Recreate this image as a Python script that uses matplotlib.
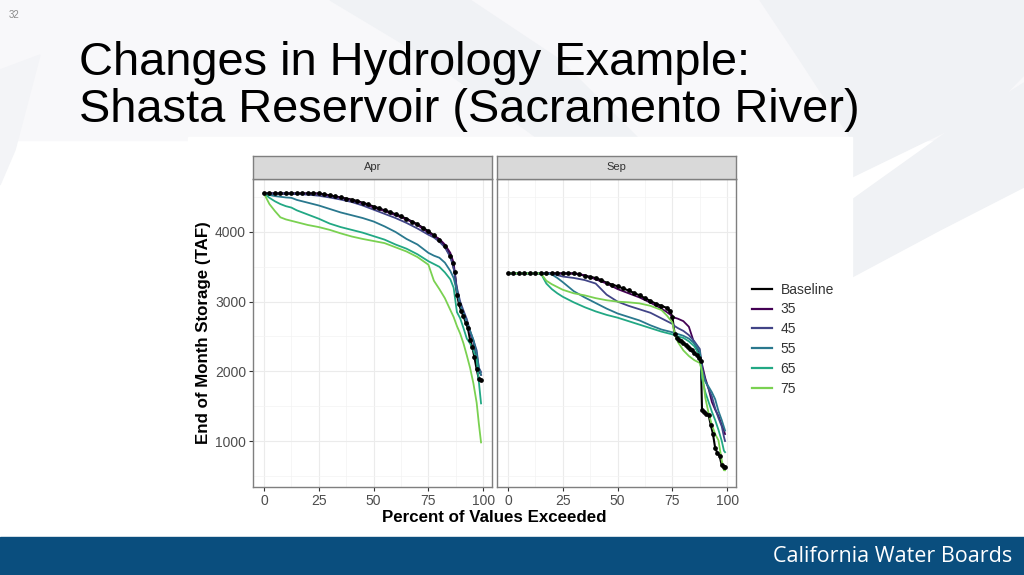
import matplotlib
matplotlib.use("Agg")
import matplotlib.pyplot as plt
from matplotlib.patches import Rectangle, Polygon

plt.rcParams['font.family'] = ['Liberation Sans', 'DejaVu Sans']

# ---- data (percent exceeded vs end of month storage, TAF) ----
series_names = ['Baseline', '35', '45', '55', '65', '75']
series_colors = ['#000000', '#440154', '#414487', '#2A788E', '#22A884', '#7AD151']

# Baseline is drawn with points, so it gets its own finer reading
apr_base_pct = [0, 2.5, 5, 7.5, 10, 12.5, 15, 17.5, 20, 22.5, 25, 27.5, 30, 32.5, 35, 37.5, 40,
                42.5, 45, 47.5, 50, 52.5, 55, 57.5, 60, 62.5, 65, 67.5, 70, 72.5, 75, 77.5, 80,
                82.5, 85, 86, 87, 88, 89, 90, 91, 92, 93, 94, 95, 96, 97, 98, 99]
apr_baseline = [4552, 4552, 4552, 4552, 4552, 4552, 4552, 4552, 4552, 4552, 4552, 4540, 4525,
                4510, 4495, 4480, 4465, 4445, 4420, 4395, 4365, 4340, 4310, 4285, 4255, 4225,
                4190, 4150, 4110, 4060, 4010, 3950, 3890, 3800, 3660, 3560, 3420, 3100, 2960,
                2860, 2790, 2700, 2620, 2450, 2350, 2200, 2030, 1890, 1870]

apr_pct = [0, 2.5, 5, 7.5, 10, 12.5, 15, 20, 25, 30, 35, 40, 45, 50, 55, 60, 65, 70,
           75, 77.5, 80, 82.5, 85, 86.5, 88, 89.5, 91, 92.5, 94, 95.5, 97, 98, 99]
apr_35 = [4552, 4552, 4552, 4552, 4552, 4552, 4552, 4552, 4550, 4515, 4490, 4455, 4410, 4350,
          4300, 4240, 4180, 4100, 3990, 3940, 3900, 3820, 3700, 3560, 3150, 2950, 2850, 2700,
          2550, 2420, 2200, 2000, 1950]
apr_45 = [4552, 4552, 4552, 4552, 4552, 4550, 4545, 4535, 4520, 4495, 4465, 4430, 4380, 4320,
          4260, 4200, 4130, 4050, 3960, 3920, 3860, 3780, 3640, 3480, 3200, 3000, 2870, 2750,
          2580, 2450, 2300, 2050, 1990]
apr_55 = [4552, 4530, 4515, 4505, 4495, 4490, 4460, 4420, 4380, 4330, 4280, 4240, 4200, 4150,
          4080, 4000, 3900, 3820, 3700, 3660, 3630, 3560, 3440, 3340, 3150, 2950, 2830, 2700,
          2580, 2450, 2250, 2050, 1950]
apr_65 = [4552, 4490, 4440, 4400, 4370, 4350, 4310, 4250, 4190, 4120, 4070, 4030, 3990, 3940,
          3890, 3820, 3760, 3680, 3580, 3540, 3500, 3420, 3320, 3200, 2850, 2760, 2620, 2470,
          2400, 2300, 2170, 1850, 1540]
apr_75 = [4552, 4400, 4300, 4210, 4180, 4160, 4140, 4100, 4070, 4030, 3980, 3935, 3900, 3870,
          3840, 3780, 3720, 3640, 3530, 3300, 3180, 3050, 2880, 2780, 2650, 2540, 2400, 2230,
          2050, 1830, 1550, 1250, 980]

sep_base_pct = [0, 2.5, 5, 7.5, 10, 12.5, 15, 17.5, 20, 22.5, 25, 27.5, 30, 32.5, 35, 37.5, 40,
                42.5, 45, 47.5, 50, 52.5, 55, 57.5, 60, 62.5, 65, 67.5, 70, 72.5, 74, 75, 76,
                77, 78, 79, 80, 81, 82, 83, 84, 85, 86, 87, 88, 88.5, 89.5, 90.5, 91.5, 92.5,
                93.5, 94.5, 95.5, 96.5, 97.5, 98.5, 99]
sep_baseline = [3405, 3405, 3405, 3405, 3405, 3405, 3405, 3405, 3405, 3405, 3405, 3405, 3405,
                3395, 3370, 3355, 3340, 3310, 3270, 3245, 3220, 3190, 3160, 3125, 3090, 3050,
                3010, 2970, 2940, 2910, 2860, 2780, 2540, 2480, 2450, 2430, 2410, 2380, 2350,
                2320, 2300, 2270, 2230, 2190, 2150, 1450, 1420, 1390, 1370, 1230, 1100, 900,
                830, 790, 650, 630, 630]

sep_pct = [0, 5, 10, 15, 17.5, 20, 22.5, 25, 30, 35, 40, 45, 50, 55, 60, 65, 70, 72.5, 75,
           76, 77.5, 80, 82.5, 85, 87.5, 88.5, 90, 91.5, 93, 94.5, 96, 97.5, 98.5, 99]
sep_35 = [3405, 3405, 3405, 3405, 3405, 3405, 3405, 3405, 3405, 3380, 3320, 3260, 3180, 3120,
          3060, 2985, 2900, 2850, 2790, 2770, 2755, 2720, 2640, 2400, 2250, 2100, 1900, 1750,
          1560, 1450, 1360, 1230, 1150, 1100]
sep_45 = [3405, 3405, 3405, 3405, 3405, 3405, 3380, 3360, 3340, 3310, 3260, 3100, 3000, 2940,
          2890, 2840, 2760, 2720, 2680, 2650, 2620, 2580, 2520, 2430, 2320, 2050, 1870, 1750,
          1640, 1470, 1330, 1210, 1060, 1000]
sep_55 = [3405, 3405, 3405, 3405, 3405, 3390, 3340, 3280, 3150, 3060, 2980, 2900, 2830, 2780,
          2730, 2660, 2600, 2580, 2560, 2550, 2535, 2510, 2470, 2400, 2290, 2000, 1850, 1780,
          1700, 1600, 1430, 1300, 1200, 1150]
sep_65 = [3405, 3405, 3405, 3405, 3260, 3180, 3120, 3070, 2990, 2920, 2860, 2810, 2770, 2720,
          2670, 2620, 2570, 2550, 2530, 2520, 2500, 2480, 2430, 2360, 2220, 1900, 1700, 1560,
          1420, 1300, 1160, 1000, 860, 840]
sep_75 = [3405, 3405, 3405, 3405, 3300, 3250, 3210, 3170, 3120, 3090, 3050, 3020, 3000, 2990,
          2975, 2940, 2880, 2800, 2700, 2550, 2420, 2300, 2220, 2160, 2120, 2000, 1620, 1400,
          1230, 1100, 1010, 720, 580, 580]

x_ticks = [0, 25, 50, 75, 100]
y_ticks = [1000, 2000, 3000, 4000]

W, H = 1024, 575
fig = plt.figure(figsize=(W / 100, H / 100), dpi=100)
fig.patch.set_facecolor('white')


def fx(px):
    return px / W


def fy(py):
    return 1 - py / H


def bg_shape(pts, color='#F0F2F5'):
    fig.patches.append(Polygon([(fx(x), fy(y)) for x, y in pts], closed=True,
                               transform=fig.transFigure, color=color, zorder=0))


# faint slide background swooshes
bg_shape([(0, 0), (1024, 0), (1024, 140), (0, 140)], color='#F8F8FA')
bg_shape([(330, 0), (470, 0), (560, 60), (640, 140), (540, 140), (430, 60)])
bg_shape([(760, 0), (1024, 0), (1024, 20), (930, 50), (852, 90), (852, 140), (800, 60)])
bg_shape([(852, 90), (930, 50), (1024, 20), (1024, 75), (990, 110), (852, 177)])
bg_shape([(852, 200), (950, 130), (1024, 83), (1024, 187), (940, 230), (852, 277)])
bg_shape([(0, 70), (40, 55), (15, 150), (0, 185)], color='#F3F4F7')
# white plot image area
fig.patches.append(Rectangle((fx(188), fy(535)), fx(852 - 188), (535 - 137) / H,
                             transform=fig.transFigure, color='white', zorder=0.5))

# footer band
fig.patches.append(Rectangle((0, 0), 1, (575 - 537) / H, transform=fig.transFigure,
                             color='#0A4E7E', zorder=1))
fig.text(fx(1012), fy(556), 'California Water Boards', color='white', fontsize=15.5,
         family=['Open Sans', 'DejaVu Sans'], ha='right', va='center')

# page number and title
fig.text(fx(9), fy(15), '32', color='#8C8C8C', fontsize=7, ha='left', va='center')
fig.text(fx(79), fy(41), 'Changes in Hydrology Example:\nShasta Reservoir (Sacramento River)',
         fontsize=33.8, ha='left', va='top', linespacing=1.1, color='black')

panels = [
    ('Apr', apr_base_pct, apr_baseline, apr_pct, [apr_35, apr_45, apr_55, apr_65, apr_75], 253),
    ('Sep', sep_base_pct, sep_baseline, sep_pct, [sep_35, sep_45, sep_55, sep_65, sep_75], 497),
]

ax_top, ax_bot, ax_w = 179, 487, 239
strip_h = 23
axes = []
for month, base_pct, base_vals, pct, values, left in panels:
    ax = fig.add_axes([fx(left), fy(ax_bot), ax_w / W, (ax_bot - ax_top) / H])
    ax.set_zorder(2)
    ax.set_xlim(-5, 104)
    ax.set_ylim(340, 4760)
    ax.set_xticks(x_ticks)
    ax.set_xticks([12.5, 37.5, 62.5, 87.5], minor=True)
    ax.set_yticks(y_ticks)
    ax.set_yticks([500, 1500, 2500, 3500, 4500], minor=True)
    ax.grid(which='major', color='#EBEBEB', lw=0.8)
    ax.grid(which='minor', color='#F3F3F3', lw=0.5)
    ax.set_axisbelow(True)
    for sp in ax.spines.values():
        sp.set_color('#7F7F7F')
        sp.set_linewidth(1.0)
    ax.tick_params(which='major', length=3, width=0.8, color='#333333',
                   labelsize=10, labelcolor='#4D4D4D', pad=2)
    ax.tick_params(which='minor', length=0)

    ax.plot(base_pct, base_vals, color=series_colors[0], lw=1.5, label=series_names[0], zorder=3)
    for name, color, vals in zip(series_names[1:], series_colors[1:], values):
        ax.plot(pct, vals, color=color, lw=1.3, label=name, zorder=3)
    ax.plot(base_pct, base_vals, 'o', color='black', ms=2.4, zorder=4)

    # facet strip
    sax = fig.add_axes([fx(left), fy(ax_top), ax_w / W, strip_h / H])
    sax.set_zorder(2)
    sax.set_facecolor('#D9D9D9')
    sax.set_xticks([])
    sax.set_yticks([])
    for sp in sax.spines.values():
        sp.set_color('#7F7F7F')
        sp.set_linewidth(1.0)
    sax.text(0.5, 0.5, month, ha='center', va='center', fontsize=8, color='#333333',
             transform=sax.transAxes)
    axes.append(ax)

axes[1].set_yticklabels([])
axes[1].tick_params(axis='y', length=0)

axes[0].set_ylabel('End of Month Storage (TAF)', fontsize=12.2, fontweight='bold',
                   color='black', labelpad=3)
fig.text(fx(494), fy(518), 'Percent of Values Exceeded', fontsize=12.2, fontweight='bold',
         ha='center', va='center', color='black')

handles, labels = axes[0].get_legend_handles_labels()
leg = fig.legend(handles, labels, loc='upper left', bbox_to_anchor=(fx(746), fy(277)),
                 frameon=False, fontsize=10, handlelength=1.5, handletextpad=0.6,
                 labelspacing=0.42, borderaxespad=0)
for t in leg.get_texts():
    t.set_color('#333333')
for line in leg.get_lines():
    line.set_linewidth(1.6)

fig.savefig('out.png', dpi=100, facecolor='white')
